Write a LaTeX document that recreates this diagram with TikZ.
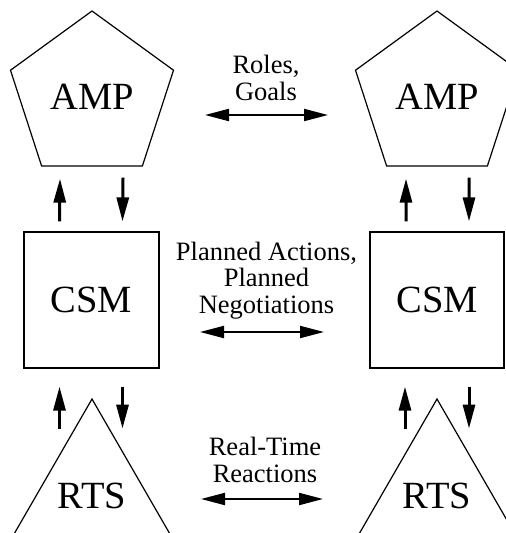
\documentclass[tikz,border=0pt]{standalone}
\usepackage{fontspec}
\setmainfont{Liberation Serif}
\usetikzlibrary{shapes.geometric,arrows.meta}
\begin{document}
\begin{tikzpicture}[x=1pt,y=-1pt,
  shapeline/.style={draw=black,line width=1.2pt,inner sep=0pt},
  bigtext/.style={font=\fontsize{38.5}{40}\selectfont},
  penta/.style={shapeline,bigtext,regular polygon,regular polygon sides=5,minimum size=171.4pt},
  tri/.style={shapeline,bigtext,regular polygon,regular polygon sides=3,minimum size=194pt},
  sqbox/.style={shapeline,bigtext,rectangle,minimum width=135pt,minimum height=136pt},
  lbl/.style={align=center,font=\fontsize{26.5}{26.5}\selectfont,inner sep=0pt,anchor=base},
  varrow/.style={line width=3pt,-{Triangle[length=24pt,width=12pt]}},
  harrow/.style={line width=2pt,{Triangle[length=24pt,width=12pt]}-{Triangle[length=24pt,width=12pt]}}]
\clip (0,0) rectangle (506,533);
\fill[white] (0,0) rectangle (506,533);
% shapes
\node[penta] (amp1) at (92,96.7) {AMP};
\node[penta] (amp2) at (437,96.7) {AMP};
\node[sqbox] (csm1) at (91.5,300) {CSM};
\node[sqbox,minimum width=134pt] (csm2) at (437,300) {CSM};
\node[tri] (rts1) at (92,496) {RTS};
\node[tri] (rts2) at (437,496) {RTS};
% labels (base anchor = baseline of last line)
\node[lbl] (roles) at (266,100) {Roles,\\Goals};
\node[lbl] (plan) at (266.5,313) {Planned Actions,\\Planned\\Negotiations};
\node[lbl] (rt) at (265,482) {Real-Time\\Reactions};
% horizontal arrows
\coordinate (ra) at (205,115); \coordinate (rb) at (328,115);
\coordinate (pa) at (200,332); \coordinate (pb) at (324,332);
\coordinate (ta) at (201,499); \coordinate (tb) at (323,499);
\draw[harrow] (ra) -- (rb);
\draw[harrow] (pa) -- (pb);
\draw[harrow] (ta) -- (tb);
% vertical arrows, left column
\draw[varrow] ([xshift=-32pt,yshift=10pt]csm1.north) -- ([xshift=-32pt,yshift=-12pt]amp1.south);
\draw[varrow] ([xshift=31pt,yshift=-11pt]amp1.south) -- ([xshift=31pt,yshift=10pt]csm1.north);
\draw[varrow] ([xshift=-32pt,yshift=-60pt]csm1.south) -- ([xshift=-32pt,yshift=-18pt]csm1.south);
\draw[varrow] ([xshift=31pt,yshift=-18pt]csm1.south) -- ([xshift=31pt,yshift=-60pt]csm1.south);
% vertical arrows, right column
\draw[varrow] ([xshift=-31pt,yshift=10pt]csm2.north) -- ([xshift=-31pt,yshift=-12pt]amp2.south);
\draw[varrow] ([xshift=32pt,yshift=-11pt]amp2.south) -- ([xshift=32pt,yshift=10pt]csm2.north);
\draw[varrow] ([xshift=-32pt,yshift=-60pt]csm2.south) -- ([xshift=-32pt,yshift=-18pt]csm2.south);
\draw[varrow] ([xshift=32pt,yshift=-18pt]csm2.south) -- ([xshift=32pt,yshift=-60pt]csm2.south);
\end{tikzpicture}
\end{document}
